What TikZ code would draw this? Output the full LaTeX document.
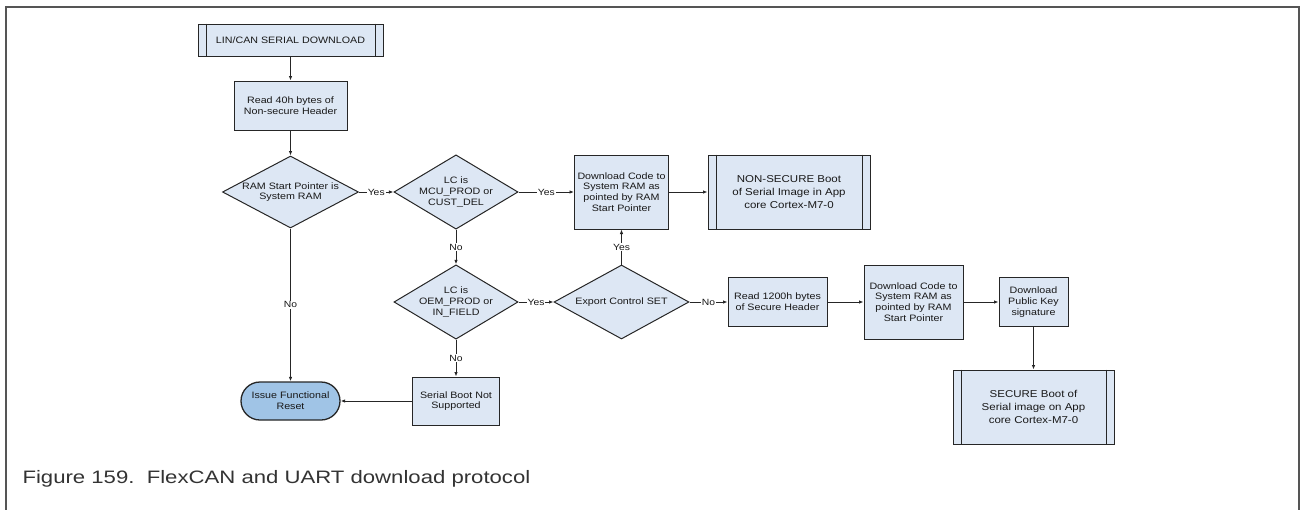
\documentclass[tikz,border=0pt]{standalone}
\usepackage{fontspec}
\setmainfont[FakeStretch=1.15]{Liberation Sans}
\newfontfamily\capfont[FakeStretch=1.23]{Liberation Sans}
\usetikzlibrary{shapes.geometric,arrows.meta}
\definecolor{boxblue}{RGB}{221,231,244}
\definecolor{resetblue}{RGB}{160,196,230}
\definecolor{framegray}{RGB}{85,85,85}
\tikzset{
  proc/.style={draw=black!85,fill=boxblue,line width=1pt,align=center,inner sep=0pt,text=black!90,
    font=\fontsize{9.3}{10.8}\selectfont},
  predef/.style={proc,font=\fontsize{10}{13.3}\selectfont},
  decision/.style={proc,shape=diamond},
  term/.style={proc,fill=resetblue,rounded corners=19pt,line width=1.3pt},
  flow/.style={draw=black!85,line width=0.9pt,-{Latex[length=4.5pt,width=3.5pt]}},
  yn/.style={fill=white,inner sep=1pt,text=black!90,font=\fontsize{9}{10}\selectfont}
}
\begin{document}
\begin{tikzpicture}[x=1pt,y=-1pt]
        \useasboundingbox (0,0) rectangle (1307,509);
        \draw[framegray,line width=2.5pt] (6,512) |- (1299,7) -- (1299,512);
        \node[predef,font=\fontsize{9.3}{11}\selectfont,minimum width=185pt,minimum height=32pt] (start) at (290.5,40) {LIN/CAN SERIAL DOWNLOAD};
        \node[proc,minimum width=113pt,minimum height=49pt] (hdr40) at (290.5,105.5) {Read 40h bytes of\\Non-secure Header};
        \node[decision,aspect=1.89,minimum width=136pt,minimum height=72pt] (ramsp) at (290.5,192) {RAM Start Pointer is\\System RAM};
        \node[decision,aspect=1.67,minimum width=122pt,minimum height=73pt] (lcmcu) at (456,192) {LC is\\MCU\_PROD or\\CUST\_DEL};
        \node[proc,minimum width=94pt,minimum height=74pt] (dlns) at (621.5,192) {Download Code to\\System RAM as\\pointed by RAM\\Start Pointer};
        \node[predef,minimum width=162pt,minimum height=74pt] (nsboot) at (789,192) {NON-SECURE Boot\\of Serial Image in App\\core Cortex-M7-0};
        \node[decision,aspect=1.67,minimum width=122pt,minimum height=73pt] (lcoem) at (456,302) {LC is\\OEM\_PROD or\\IN\_FIELD};
        \node[decision,aspect=1.82,minimum width=135pt,minimum height=74pt] (expctl) at (621.5,302) {Export Control SET};
        \node[proc,minimum width=99pt,minimum height=49pt] (hdr1200) at (777.5,302) {Read 1200h bytes\\of Secure Header};
        \node[proc,minimum width=99pt,minimum height=74pt] (dls) at (913.5,302) {Download Code to\\System RAM as\\pointed by RAM\\Start Pointer};
        \node[proc,minimum width=69pt,minimum height=49pt] (pubkey) at (1033.5,302) {Download\\Public Key\\signature};
        \node[predef,minimum width=161pt,minimum height=74pt] (sboot) at (1033.5,407) {SECURE Boot of\\Serial image on App\\core Cortex-M7-0};
        \node[proc,minimum width=87pt,minimum height=48pt] (nosup) at (456,401) {Serial Boot Not\\Supported};
        \node[term,minimum width=99pt,minimum height=38pt] (reset) at (290.5,401) {Issue Functional\\Reset};
        \foreach \n in {start,nsboot,sboot}
          \draw[black!85,line width=1pt] ([xshift=8.5pt]\n.north west) -- ([xshift=8.5pt]\n.south west)
            ([xshift=-8.5pt]\n.north east) -- ([xshift=-8.5pt]\n.south east);
        \draw[flow] (start) -- (hdr40);
        \draw[flow] (hdr40) -- (ramsp);
        \draw[flow] (ramsp) -- node[yn]{Yes} (lcmcu);
        \draw[flow] (lcmcu) -- node[yn]{Yes} (dlns);
        \draw[flow] (dlns) -- (nsboot);
        \draw[flow] (lcmcu) -- node[yn]{No} (lcoem);
        \draw[flow] (lcoem) -- node[yn]{Yes} (expctl);
        \draw[flow] (expctl) -- node[yn]{Yes} (dlns);
        \draw[flow] (expctl) -- node[yn]{No} (hdr1200);
        \draw[flow] (hdr1200) -- (dls);
        \draw[flow] (dls) -- (pubkey);
        \draw[flow] (pubkey) -- (sboot);
        \draw[flow] (lcoem) -- node[yn]{No} (nosup);
        \draw[flow] (nosup) -- (reset);
        \draw[flow] (ramsp) -- node[yn]{No} (reset);
        \node[anchor=west,text=black!80,font=\capfont\fontsize{18}{20}\selectfont] (cap) at (19,479) {Figure 159.\ \ FlexCAN and UART download protocol};
\end{tikzpicture}
\end{document}
